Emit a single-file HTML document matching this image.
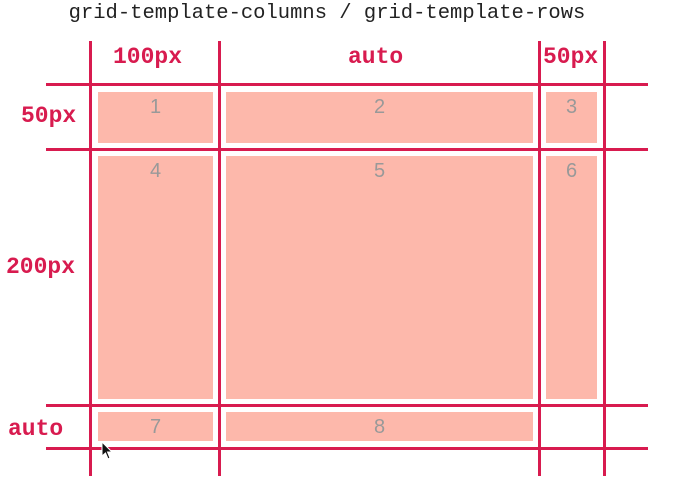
<!DOCTYPE html>
<html><head><meta charset="utf-8"><style>
body{margin:0;width:684px;height:494px;background:#fff;position:relative;overflow:hidden;font-family:"Liberation Mono",monospace}
.t{position:absolute;left:0;width:654px;top:2px;text-align:center;font-size:20.5px;color:#222}
.v,.h{position:absolute;background:#d81b4f}
.v{width:3px;top:41px;height:435px}
.h{height:3px;left:46px;width:602px}
.c{position:absolute;background:#fdb8ab;color:#999;font-family:"Liberation Sans",sans-serif;font-size:20px;text-align:center;line-height:30px}
.l{position:absolute;color:#d81b4f;font-weight:bold;font-size:23px}
</style></head><body>
<div class="t">grid-template-columns / grid-template-rows</div>
<div class="v" style="left:89px"></div>
<div class="v" style="left:218px"></div>
<div class="v" style="left:538px"></div>
<div class="v" style="left:603px"></div>
<div class="h" style="top:83px"></div>
<div class="h" style="top:148px"></div>
<div class="h" style="top:404px"></div>
<div class="h" style="top:447px"></div>
<div class="l" style="left:113px;top:44px">100px</div>
<div class="l" style="left:348px;top:44px">auto</div>
<div class="l" style="left:543px;top:44px">50px</div>
<div class="l" style="left:21px;top:103px">50px</div>
<div class="l" style="left:6px;top:254px">200px</div>
<div class="l" style="left:8px;top:416px">auto</div>
<div class="c" style="left:98px;top:92px;width:115px;height:51px">1</div>
<div class="c" style="left:226px;top:92px;width:307px;height:51px">2</div>
<div class="c" style="left:546px;top:92px;width:51px;height:51px">3</div>
<div class="c" style="left:98px;top:156px;width:115px;height:243px">4</div>
<div class="c" style="left:226px;top:156px;width:307px;height:243px">5</div>
<div class="c" style="left:546px;top:156px;width:51px;height:243px">6</div>
<div class="c" style="left:98px;top:412px;width:115px;height:29px">7</div>
<div class="c" style="left:226px;top:412px;width:307px;height:29px">8</div>
<svg style="position:absolute;left:101px;top:441px" width="14" height="20"><path d="M1 1 L1 15 L4.5 12 L7 18 L9 17 L6.5 11 L11 11 Z" fill="#111" stroke="#fff" stroke-width="1"/></svg>
</body></html>
